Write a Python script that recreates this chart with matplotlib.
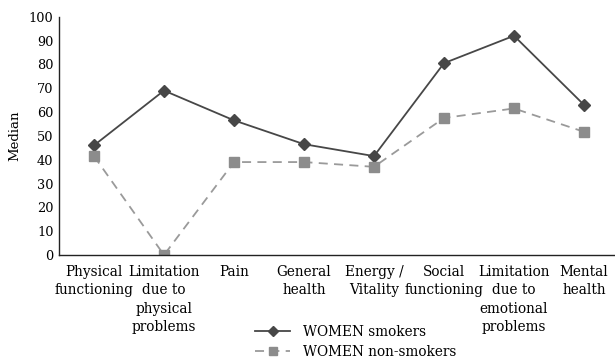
import matplotlib
matplotlib.use("Agg")
import matplotlib.pyplot as plt

categories = ["Physical\nfunctioning", "Limitation\ndue to\nphysical\nproblems", "Pain",
              "General\nhealth", "Energy /\nVitality", "Social\nfunctioning",
              "Limitation\ndue to\nemotional\nproblems", "Mental\nhealth"]
smokers = [46, 69, 56.5, 46.5, 41.5, 80.5, 92, 63]
non_smokers = [41.5, 0, 39, 39, 37, 57.5, 61.5, 51.7]
yticks = [0, 10, 20, 30, 40, 50, 60, 70, 80, 90, 100]

plt.rcParams['font.family'] = ['DejaVu Serif']
fig = plt.figure(figsize=(6.15, 3.61), dpi=100)
ax = fig.add_axes([59/615, 1-255/361, (615-59)/615, (255-16.7)/361])
x = list(range(len(categories)))
l1, = ax.plot(x, smokers, color="#474747", lw=1.3, marker="D", ms=6.5, mfc="#474747", mec="#474747",
              label="WOMEN smokers")
l2, = ax.plot(x, non_smokers, color="#9a9a9a", lw=1.3, ls=(0, (5, 3.5)), marker="s", ms=7,
              mfc="#8c8c8c", mec="#8c8c8c", label="WOMEN non-smokers")
ax.set_xlim(-0.5, 7.443)
ax.set_ylim(0, 100)
ax.set_yticks(yticks)
ax.set_xticks(x)
ax.set_xticklabels(categories, fontsize=9.8, linespacing=1.4)
ax.tick_params(axis='y', length=0, labelsize=9.3, pad=4)
ax.tick_params(axis='x', length=0, pad=7)
for s in ["top", "right"]:
    ax.spines[s].set_visible(False)
for s in ["left", "bottom"]:
    ax.spines[s].set_color("#222222")
    ax.spines[s].set_linewidth(1.0)
ax.set_ylabel("Median", fontsize=9.5, labelpad=5)
leg = fig.legend(handles=[l1, l2], loc="upper left", bbox_to_anchor=(255/615, 1-325/361), frameon=False,
           fontsize=9.8, handlelength=2.6, handletextpad=0.9, labelspacing=0.45, borderpad=0,
           borderaxespad=0, markerscale=0.8)
fig.savefig("out.png", dpi=100)
